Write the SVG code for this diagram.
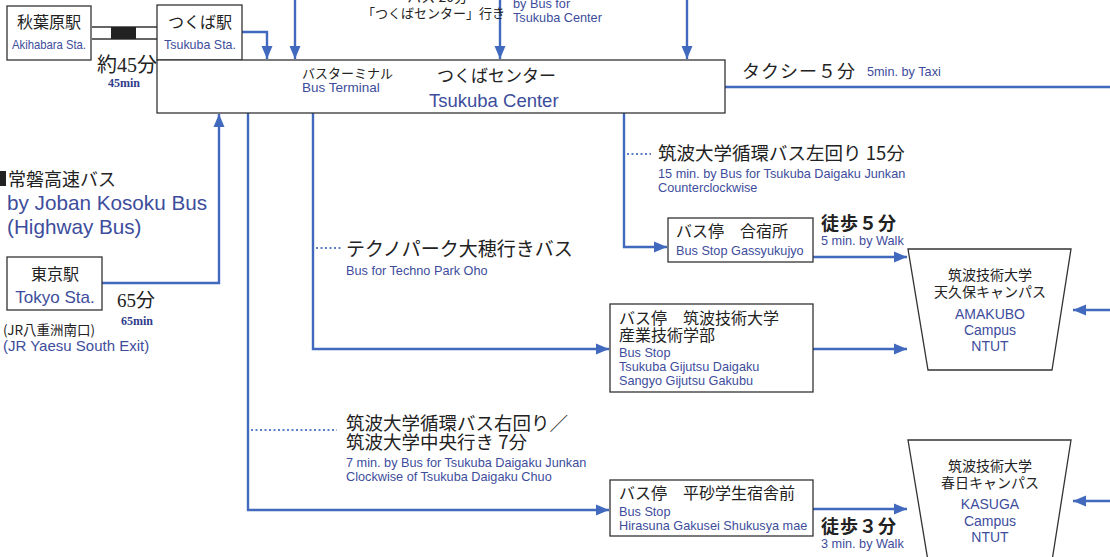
<svg xmlns="http://www.w3.org/2000/svg" width="1110" height="557" viewBox="0 0 1110 557">
<defs>
<marker id="ah" markerUnits="userSpaceOnUse" markerWidth="14" markerHeight="14" viewBox="0 0 14 14" refX="13" refY="7" orient="auto">
<path d="M0,1.5 L13,7 L0,12.5 Z" fill="#4169bd"/>
</marker>
</defs>
<style>
.box{fill:#fff;stroke:#333;stroke-width:1.3}
.ln{fill:none;stroke:#4169bd;stroke-width:2.4}
.dot{fill:none;stroke:#5b7fc8;stroke-width:2;stroke-dasharray:2 2.5}
.jp{font-family:"Noto Sans CJK JP","Noto Sans",sans-serif;fill:#222}
.mj{font-family:"Liberation Serif","Noto Sans CJK JP",serif;fill:#222}
.en{font-family:"Liberation Sans","Noto Sans",sans-serif;fill:#3d4d9c}
.sm{font-size:12.7px}
.ens{font-family:"Liberation Serif",serif;fill:#2e3d8c;font-weight:bold}
</style>
<rect width="1110" height="557" fill="#fff"/>

<g id="connectors">
<line class="ln" x1="295" y1="-2" x2="295" y2="59" marker-end="url(#ah)"/>
<line class="ln" x1="500" y1="-2" x2="500" y2="59" marker-end="url(#ah)"/>
<line class="ln" x1="687" y1="-2" x2="687" y2="59" marker-end="url(#ah)"/>
<polyline class="ln" points="242,32 267,32 267,59" marker-end="url(#ah)"/>
<line class="ln" x1="725" y1="87" x2="1112" y2="87"/>
<polyline class="ln" points="102,283 219,283 219,114" marker-end="url(#ah)"/>
<polyline class="ln" points="624,113 624,247 667,247" marker-end="url(#ah)"/>
<polyline class="ln" points="313,113 313,349 609,349" marker-end="url(#ah)"/>
<polyline class="ln" points="248,113 248,510 609,510" marker-end="url(#ah)"/>
<line class="ln" x1="813" y1="257" x2="907" y2="257" marker-end="url(#ah)"/>
<line class="ln" x1="813" y1="349" x2="907" y2="349" marker-end="url(#ah)"/>
<line class="ln" x1="813" y1="509" x2="907" y2="509" marker-end="url(#ah)"/>
<line class="ln" x1="1112" y1="310" x2="1073" y2="310" marker-end="url(#ah)"/>
<line class="ln" x1="1112" y1="501" x2="1073" y2="501" marker-end="url(#ah)"/>
<line class="dot" x1="627" y1="154" x2="651" y2="154"/>
<line class="dot" x1="316" y1="248" x2="341" y2="248"/>
<line class="dot" x1="251" y1="430" x2="337" y2="430"/>
</g>

<g id="rail">
<line x1="92" y1="27" x2="157" y2="27" stroke="#333" stroke-width="1.3"/>
<line x1="92" y1="39" x2="157" y2="39" stroke="#333" stroke-width="1.3"/>
<rect x="111" y="27" width="25" height="12" fill="#222"/>
</g>

<g id="akihabara">
<rect class="box" x="7" y="6" width="84" height="54"/>
<text class="jp" x="49" y="28" font-size="16" text-anchor="middle">秋葉原駅</text>
<text class="en" x="49" y="49" font-size="13" text-anchor="middle" textLength="74" lengthAdjust="spacingAndGlyphs">Akihabara Sta.</text>
</g>

<g id="tsukuba-sta">
<rect class="box" x="157" y="5" width="85" height="55"/>
<text class="jp" x="200" y="28" font-size="16" text-anchor="middle">つくば駅</text>
<text class="en" x="200" y="49" font-size="13" text-anchor="middle" textLength="72" lengthAdjust="spacingAndGlyphs">Tsukuba Sta.</text>
</g>
<text class="mj" x="97" y="72" font-size="20">約45分</text>
<text class="ens" x="108" y="87" font-size="12">45min</text>

<g id="top-labels">
<text class="jp" x="468" y="2" font-size="14" text-anchor="end">バス 20分</text>
<text class="jp" x="362" y="18" font-size="13">「つくばセンター」行き</text>
<text class="en sm" x="513" y="8">by Bus for</text>
<text class="en sm" x="513" y="22">Tsukuba Center</text>
</g>

<g id="tsukuba-center">
<rect class="box" x="157" y="60" width="568" height="53"/>
<text class="jp" x="302" y="78" font-size="13">バスターミナル</text>
<text class="en" x="302" y="92" font-size="13.5">Bus Terminal</text>
<text class="jp" x="437" y="82" font-size="17">つくばセンター</text>
<text class="en" x="429" y="107" font-size="18.5" fill="#2b3a80">Tsukuba Center</text>
</g>

<g id="taxi">
<text class="mj" x="742" y="78" font-size="18" letter-spacing="1">タクシー５分</text>
<text class="en sm" x="867" y="76">5min. by Taxi</text>
</g>

<g id="highway-label">
<rect x="0" y="171" width="6" height="15" fill="#222"/>
<text class="jp" x="8" y="186" font-size="18">常磐高速バス</text>
<text class="en" x="7" y="210" font-size="20.7">by Joban Kosoku Bus</text>
<text class="en" x="7" y="234" font-size="20.7">(Highway Bus)</text>
</g>

<g id="tokyo">
<rect class="box" x="7" y="257" width="95" height="53"/>
<text class="jp" x="55" y="280" font-size="16" text-anchor="middle">東京駅</text>
<text class="en" x="55" y="303" font-size="17" text-anchor="middle">Tokyo Sta.</text>
</g>
<text class="mj" x="117" y="307" font-size="19">65分</text>
<text class="ens" x="121" y="325" font-size="12">65min</text>
<text class="jp" x="3" y="335" font-size="13.5">(JR八重洲南口)</text>
<text class="en" x="3" y="351" font-size="15">(JR Yaesu South Exit)</text>

<g id="ccw-label">
<text class="jp" x="658" y="160" font-size="18.5">筑波大学循環バス左回り 15分</text>
<text class="en sm" x="658" y="178">15 min. by Bus for Tsukuba Daigaku Junkan</text>
<text class="en sm" x="658" y="192">Counterclockwise</text>
</g>

<g id="gassyukujo">
<rect class="box" x="668" y="218" width="145" height="44"/>
<text class="jp" x="676" y="237" font-size="16">バス停　合宿所</text>
<text class="en sm" x="676" y="255">Bus Stop Gassyukujyo</text>
</g>
<text class="mj" x="821" y="230" font-size="18" font-weight="bold" letter-spacing="1">徒歩５分</text>
<text class="en sm" x="821" y="245">5 min. by Walk</text>

<g id="techno-label">
<text class="jp" x="346" y="256" font-size="19">テクノパーク大穂行きバス</text>
<text class="en sm" x="346" y="275">Bus for Techno Park Oho</text>
</g>

<g id="sangyo">
<rect class="box" x="610" y="304" width="203" height="88"/>
<text class="jp" x="619" y="324" font-size="16">バス停　筑波技術大学</text>
<text class="jp" x="619" y="341" font-size="16">産業技術学部</text>
<text class="en sm" x="619" y="357">Bus Stop</text>
<text class="en sm" x="619" y="371">Tsukuba Gijutsu Daigaku</text>
<text class="en sm" x="619" y="385">Sangyo Gijutsu Gakubu</text>
</g>

<g id="amakubo">
<polygon class="box" points="908,249 1071,249 1052,370 928,370"/>
<text class="jp" x="990" y="280" font-size="14" text-anchor="middle">筑波技術大学</text>
<text class="jp" x="990" y="297" font-size="14" text-anchor="middle">天久保キャンパス</text>
<text class="en" x="990" y="319" font-size="14" text-anchor="middle">AMAKUBO</text>
<text class="en" x="990" y="335" font-size="14" text-anchor="middle">Campus</text>
<text class="en" x="990" y="351" font-size="14" text-anchor="middle">NTUT</text>
</g>

<g id="cw-label">
<text class="jp" x="346" y="430" font-size="18.5">筑波大学循環バス右回り／</text>
<text class="jp" x="346" y="449" font-size="18.5">筑波大学中央行き 7分</text>
<text class="en sm" x="346" y="467">7 min. by Bus for Tsukuba Daigaku Junkan</text>
<text class="en sm" x="346" y="481">Clockwise of Tsukuba Daigaku Chuo</text>
</g>

<g id="hirasuna">
<rect class="box" x="610" y="480" width="203" height="56"/>
<text class="jp" x="619" y="499" font-size="16">バス停　平砂学生宿舎前</text>
<text class="en sm" x="619" y="516">Bus Stop</text>
<text class="en sm" x="619" y="530">Hirasuna Gakusei Shukusya mae</text>
</g>
<text class="mj" x="821" y="533" font-size="18" font-weight="bold" letter-spacing="1">徒歩３分</text>
<text class="en sm" x="821" y="548">3 min. by Walk</text>

<g id="kasuga">
<polygon class="box" points="908,440 1071,440 1052,561 928,561"/>
<text class="jp" x="990" y="471" font-size="14" text-anchor="middle">筑波技術大学</text>
<text class="jp" x="990" y="488" font-size="14" text-anchor="middle">春日キャンパス</text>
<text class="en" x="990" y="509" font-size="14" text-anchor="middle">KASUGA</text>
<text class="en" x="990" y="526" font-size="14" text-anchor="middle">Campus</text>
<text class="en" x="990" y="542" font-size="14" text-anchor="middle">NTUT</text>
</g>
</svg>
